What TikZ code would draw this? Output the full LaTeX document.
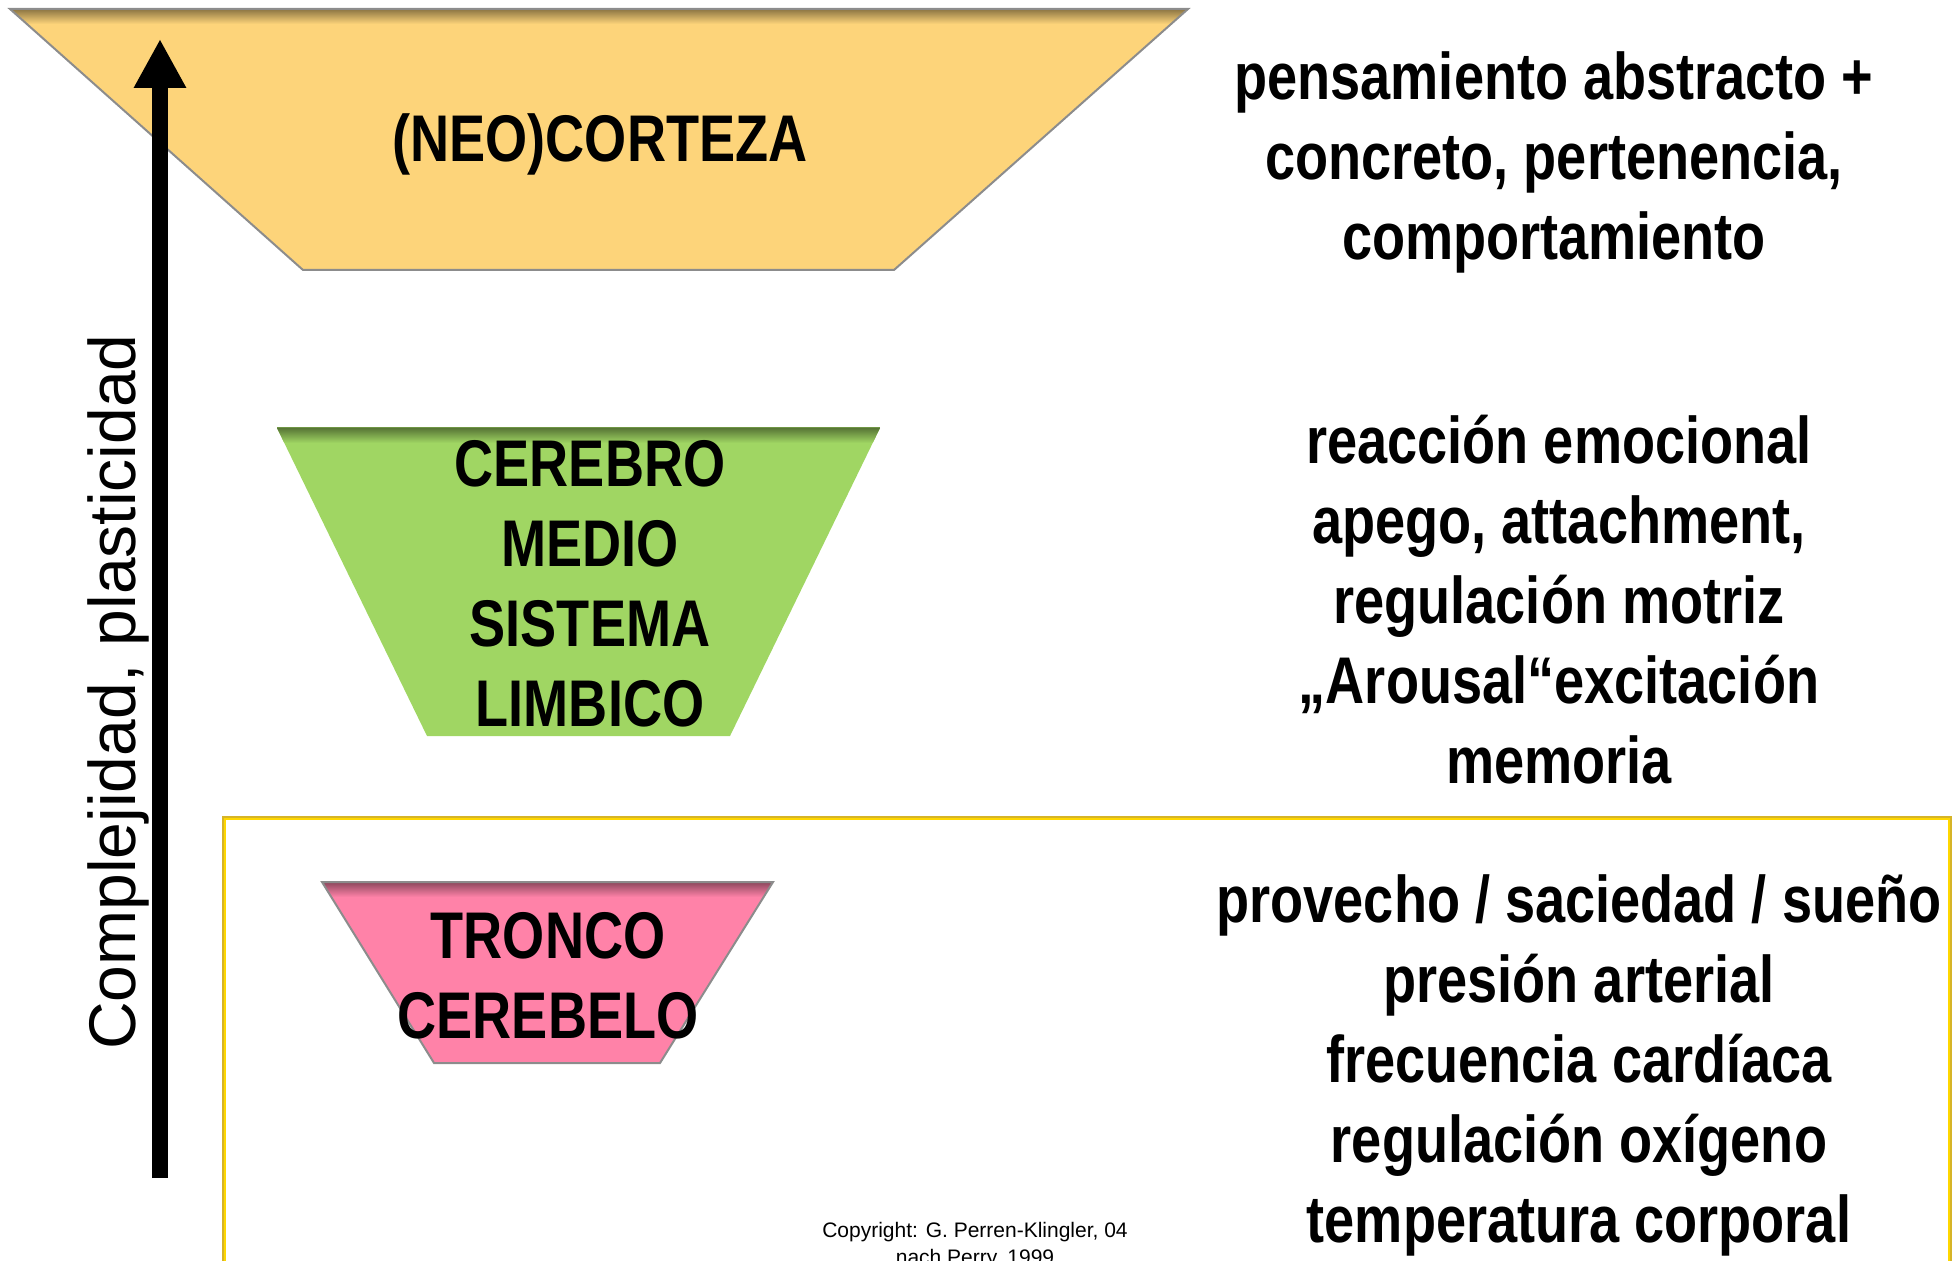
\documentclass[tikz,border=0pt]{standalone}
\usepackage{fontspec}
\setmainfont{Liberation Sans}
\newfontfamily\narrowfont{Liberation Sans}[FakeStretch=0.82]
\usetikzlibrary{arrows.meta}

\definecolor{neoyellow}{RGB}{253,212,122}
\definecolor{limgreen}{RGB}{160,214,99}
\definecolor{trunkpink}{RGB}{255,130,168}
\definecolor{edgegray}{RGB}{140,140,140}
\definecolor{boxgold}{RGB}{214,180,40}
\definecolor{boxyellow}{RGB}{255,215,0}

\tikzset{
  layer/.style={draw=edgegray, line width=1pt},
  big/.style={font=\narrowfont\bfseries\fontsize{33}{40}\selectfont, align=center, inner sep=0pt},
  axis/.style={line width=8pt, -{Triangle[width=24.5pt, length=24.5pt]}},
}

\begin{document}
\begin{tikzpicture}[x=0.5pt, y=-0.5pt]
  \useasboundingbox (0,0) rectangle (1957,1261);

  % frame round the lower level
  \draw[boxgold, line width=2.2pt] (224,1300) -- (224,818) -- (1950,818) -- (1950,1300);
  \draw[boxyellow, line width=1pt] (225,1300) -- (225,819) -- (1949,819) -- (1949,1300);

  % layers
  \fill[neoyellow] (10,9) -- (1188,9) -- (894,270) -- (303,270) -- cycle;
  \begin{scope}
    \clip (10,9) -- (1188,9) -- (894,270) -- (303,270) -- cycle;
    \shade[top color=neoyellow!55!black, bottom color=neoyellow] (0,9) rectangle (1200,24);
  \end{scope}
  \draw[layer] (10,9) -- (1188,9) -- (894,270) -- (303,270) -- cycle;

  \fill[limgreen] (277,428) -- (880,428) -- (730,736) -- (427,736) -- cycle;
  \begin{scope}
    \clip (277,428) -- (880,428) -- (730,736) -- (427,736) -- cycle;
    \shade[top color=limgreen!55!black, bottom color=limgreen] (270,428) rectangle (890,443);
  \end{scope}
  \draw[draw=limgreen!70!black, line width=0.5pt] (277,428) -- (880,428);

  \fill[trunkpink] (322,882) -- (773,882) -- (660,1063) -- (434,1063) -- cycle;
  \begin{scope}
    \clip (322,882) -- (773,882) -- (660,1063) -- (434,1063) -- cycle;
    \shade[top color=trunkpink!55!black, bottom color=trunkpink] (310,882) rectangle (790,897);
  \end{scope}
  \draw[layer] (322,882) -- (773,882) -- (660,1063) -- (434,1063) -- cycle;

  % level names
  \node[big] (neo) at (600,144) {(NEO)CORTEZA};
  \node[big] (limbic) at (590,584) {CEREBRO\\MEDIO\\SISTEMA\\LIMBICO};
  \node[big] (trunk) at (548,976) {TRONCO\\CEREBELO};

  % functions
  \node[big] (neofun) at (1554,162) {pensamiento abstracto +\\concreto, pertenencia,\\comportamiento};
  \node[big] (limbicfun) at (1559,600) {reacción emocional\\apego, attachment,\\regulación motriz\\„Arousal“excitación\\memoria};
  \node[big] (trunkfun) at (1579,1065) {provecho / saciedad / sueño\\presión arterial\\frecuencia cardíaca\\regulación oxígeno\\temperatura corporal};

  % axis
  \coordinate (base) at (160,1178);
  \coordinate (tip) at (160,39);
  \draw[axis] (base) -- (tip);
  \node[rotate=90, font=\fontsize{33}{40}\selectfont, inner sep=0pt] (axislbl) at (118,692) {Complejidad, plasticidad};

  \node[font=\fontsize{10.5}{13.5}\selectfont, align=center, inner sep=0pt, anchor=north] (copy) at (975,1222) {Copyright: G. Perren-Klingler, 04\\nach Perry, 1999};
\end{tikzpicture}
\end{document}
